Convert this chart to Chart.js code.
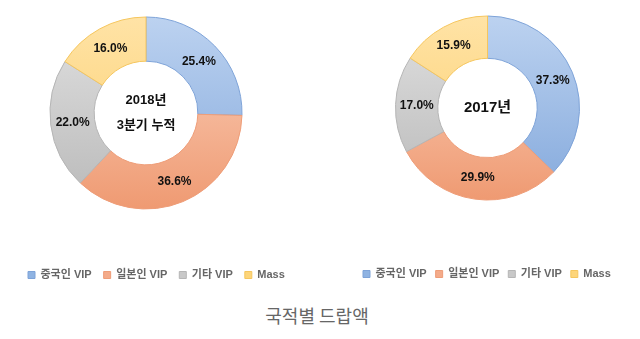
<!DOCTYPE html>
<html><head><meta charset="utf-8">
<script src="https://cdn.jsdelivr.net/npm/chart.js@4"></script>
<style>
body{margin:0;width:640px;height:339px;background:#fff;position:relative;overflow:hidden}
#c1{position:absolute;left:0;top:0}
#c2{position:absolute;left:320px;top:0}
#title{position:absolute;left:0;width:634px;top:302px;text-align:center;font-family:"Noto Sans CJK KR","Noto Sans",sans-serif;font-size:18px;color:#666}
</style></head><body>
<canvas id="c1" width="320" height="300"></canvas>
<canvas id="c2" width="320" height="300"></canvas>
<div id="title"></div>
<script>
const categories = ['중국인 VIP', '일본인 VIP', '기타 VIP', 'Mass'];
const share2018Q3 = [25.4, 36.6, 22.0, 16.0];
const share2017 = [37.3, 29.9, 17.0, 15.9];
const centerLabel2018 = ['2018년', '3분기 누적'];
const centerLabel2017 = ['2017년'];
const chartTitle = '국적별 드랍액';

const topColors = ['#bcd2f0', '#fbd3bf', '#e0e0e0', '#ffe3a6'];
const bottomColors = ['#84a9dc', '#ef9a72', '#b9b9b9', '#fbcd68'];
const legendColors = ['#8fb3e2', '#f4ab8a', '#c8c8c8', '#fdd57a'];
const borderColors = ['#7ea3d8', '#ee9d78', '#b5b5b5', '#f5c65e'];

document.getElementById('title').textContent = chartTitle;

const labelFont = 'bold 12px "Liberation Sans", Arial, "Noto Sans CJK KR", sans-serif';

const sliceLabels = {
  id: 'sliceLabels',
  afterDatasetsDraw(chart, args, opts) {
    const ctx = chart.ctx;
    const meta = chart.getDatasetMeta(0);
    const data = chart.data.datasets[0].data;
    ctx.save();
    ctx.fillStyle = '#111';
    ctx.textAlign = 'center';
    ctx.textBaseline = 'middle';
    ctx.font = labelFont;
    meta.data.forEach((arc, i) => {
      const p = arc.tooltipPosition();
      ctx.fillText(data[i].toFixed(1) + '%', p.x, p.y);
    });
    const a = chart.chartArea;
    const cx = (a.left + a.right) / 2, cy = (a.top + a.bottom) / 2;
    const lines = opts.lines || [];
    const lh = opts.lineHeight || 24;
    ctx.font = 'bold ' + (opts.size || 13) + 'px "Liberation Sans", Arial, "Noto Sans CJK KR", sans-serif';
    lines.forEach((t, i) => {
      ctx.fillText(t, cx, cy + (i - (lines.length - 1) / 2) * lh);
    });
    ctx.restore();
  }
};

const legendShift = {
  id: 'legendShift',
  afterLayout(chart, args, opts) {
    const lg = chart.legend;
    if (lg && opts.dx) { lg.left += opts.dx; lg.right += opts.dx; }
  }
};

function makeChart(id, values, centerLines, radius, pad, legendPad, titleGap, centerSize, dx) {
  const grad = (i) => (c) => {
    const chart = c.chart;
    const a = chart.chartArea;
    if (!a) return legendColors[i];
    const cy = (a.top + a.bottom) / 2;
    const g = chart.ctx.createLinearGradient(0, cy - radius, 0, cy + radius);
    g.addColorStop(0, topColors[i]);
    g.addColorStop(1, bottomColors[i]);
    return g;
  };
  return new Chart(document.getElementById(id), {
    type: 'doughnut',
    data: {
      labels: categories,
      datasets: [{
        data: values,
        backgroundColor: (c) => grad(c.dataIndex)(c),
        borderColor: borderColors,
        borderWidth: 1,
        clip: false
      }]
    },
    options: {
      responsive: false,
      animation: false,
      radius: radius,
      cutout: '54%',
      layout: { padding: pad },
      plugins: {
        tooltip: { enabled: false },
        sliceLabels: { lines: centerLines, size: centerSize, lineHeight: 25 },
        legendShift: { dx: dx },
        legend: {
          position: 'bottom',
          align: 'start',
          title: { display: true, text: '', font: { size: 1 }, padding: { top: titleGap, bottom: 0 } },
          labels: {
            boxWidth: 7,
            boxHeight: 7,
            padding: legendPad,
            color: '#222',
            font: { size: 11, weight: 'bold', family: '"Liberation Sans", Arial, "Noto Sans CJK KR", sans-serif' },
            generateLabels: (chart) => categories.map((t, i) => ({
              text: t,
              fillStyle: legendColors[i],
              strokeStyle: borderColors[i],
              lineWidth: 1,
              hidden: false,
              index: i,
              datasetIndex: 0
            }))
          }
        }
      }
    },
    plugins: [sliceLabels, legendShift]
  });
}

makeChart('c1', share2018Q3, centerLabel2018, 96, { left: 0, right: 28, top: 0, bottom: 9.5 }, 12, 30.3, 13, 16);
makeChart('c2', share2017, centerLabel2017, 92, { left: 17.5, right: 2.5, top: 0, bottom: 10.5 }, 9, 42.3, 15, 16.5);
</script>
</body></html>
